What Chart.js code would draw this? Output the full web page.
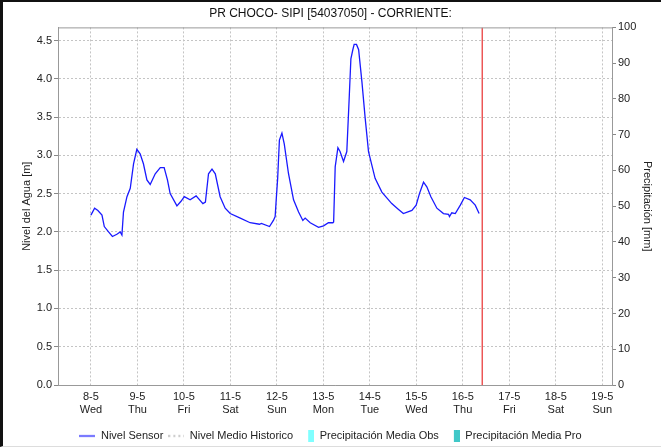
<!DOCTYPE html>
<html>
<head>
<meta charset="utf-8">
<script src="https://cdn.jsdelivr.net/npm/chart.js@4.4.1/dist/chart.umd.min.js"></script>
<style>
  html, body { margin: 0; padding: 0; background: #fff; }
  #wrap { position: relative; width: 661px; height: 447px; overflow: hidden; }
  #wrap canvas { position: absolute; left: 0; top: 0; }
  #marco { position: absolute; left: 0; top: 0; width: 661px; height: 447px; box-sizing: border-box;
           border-left: 3px solid #111; border-top: 2px solid #111; border-bottom: 1px solid #ddd; pointer-events: none; }
</style>
</head>
<body>
<div id="wrap"><canvas id="chNivel" width="661" height="447"></canvas><div id="marco"></div></div>
<script>
/* ── Datos (horas contadas desde 8-5 00:00) ── */
const DIAS = ['8-5', '9-5', '10-5', '11-5', '12-5', '13-5', '14-5', '15-5', '16-5', '17-5', '18-5', '19-5'];
const DIAS_SEMANA = ['Wed', 'Thu', 'Fri', 'Sat', 'Sun', 'Mon', 'Tue', 'Wed', 'Thu', 'Fri', 'Sat', 'Sun'];
const HORAS_DIA = [0, 24, 48, 72, 96, 120, 144, 168, 192, 216, 240, 264];
const NIVEL_TICKS = [0, 0.5, 1, 1.5, 2, 2.5, 3, 3.5, 4, 4.5];
const PRECIP_TICKS = [0, 10, 20, 30, 40, 50, 60, 70, 80, 90, 100];

const HORAS = [
  0, 1.9, 3.6, 5.7, 6.9, 9.1, 11.1, 13.4, 15.1, 16.0, 16.8, 18.6, 20.3, 22.0, 23.7, 25.4, 27.1, 28.9, 30.6,
  33.2, 35.8, 37.8, 39.5, 40.9, 44.4, 46.5, 48.2, 51.2, 54.3, 57.8, 59.1, 60.7, 62.5, 64.2, 66.7, 69.3, 71.9,
  77.1, 82.2, 87.0, 88.0, 92.2, 94.2, 95.1, 95.6, 96.4, 97.3, 98.6, 99.8, 102.0, 104.6, 107.2, 109.4, 110.6,
  113.2, 117.5, 120.1, 122.6, 124.9, 125.3, 126.1, 127.5, 128.6, 130.4, 132.1, 133.4, 134.2, 135.2, 135.9,
  137.1, 138.2, 139.9, 141.6, 143.3, 146.7, 150.2, 155.3, 158.5, 161.3, 165.7, 167.9, 169.6, 171.7, 173.4,
  175.5, 178.6, 182.0, 184.6, 185.1, 186.3, 188.1, 190.7, 192.8, 195.8, 198.4, 200.4
];
const NIVEL = [
  2.22, 2.31, 2.28, 2.22, 2.07, 2.00, 1.94, 1.97, 2.00, 1.96, 2.26, 2.46, 2.57, 2.89, 3.08, 3.02, 2.89, 2.68, 2.62,
  2.76, 2.84, 2.84, 2.68, 2.50, 2.34, 2.40, 2.46, 2.42, 2.47, 2.37, 2.39, 2.76, 2.82, 2.76, 2.46, 2.31, 2.24,
  2.18, 2.12, 2.10, 2.11, 2.07, 2.15, 2.20, 2.40, 2.70, 3.20, 3.29, 3.15, 2.76, 2.42, 2.26, 2.15, 2.18,
  2.12, 2.06, 2.08, 2.12, 2.12, 2.13, 2.85, 3.10, 3.05, 2.92, 3.05, 3.79, 4.26, 4.38, 4.45,
  4.45, 4.38, 3.96, 3.48, 3.05, 2.70, 2.52, 2.37, 2.30, 2.24, 2.28, 2.35, 2.50, 2.65, 2.59,
  2.46, 2.31, 2.24, 2.23, 2.20, 2.25, 2.24, 2.35, 2.45, 2.42, 2.35, 2.24
];
const HORA_ACTUAL = 202;
const X_MIN = -17, X_MAX = 269, NIVEL_MAX = 4.672;

Chart.defaults.font.family = '"Liberation Sans", Arial, sans-serif';
Chart.defaults.color = '#222';

/* símbolos de la leyenda */
function simbolo(tipo, color) {
  const c = document.createElement('canvas');
  c.width = 16; c.height = 12;
  const g = c.getContext('2d');
  if (tipo === 'caja') {
    g.fillStyle = color;
    g.fillRect(10, 0, 6, 12);
  } else {
    g.strokeStyle = color;
    g.lineWidth = 1.3;
    if (tipo === 'guion') g.setLineDash([2, 3]);
    g.beginPath(); g.moveTo(0, 6.5); g.lineTo(16, 6.5); g.stroke();
  }
  return c;
}
const SIMBOLOS = [simbolo('linea', '#1a1aff'), simbolo('guion', '#b0b0b0'), simbolo('caja', '#80ffff'), simbolo('caja', '#40c8c8')];

const marcoArea = {
  id: 'marcoArea',
  afterDatasetsDraw(chart) {
    const a = chart.chartArea, ctx = chart.ctx;
    ctx.save();
    ctx.strokeStyle = '#999';
    ctx.lineWidth = 1;
    ctx.beginPath();
    ctx.moveTo(a.left, a.top + 0.5);
    ctx.lineTo(a.right, a.top + 0.5);
    ctx.stroke();
    ctx.restore();
  }
};

new Chart(document.getElementById('chNivel'), {
  type: 'line',
  data: {
    datasets: [
      { label: 'Nivel Sensor', data: HORAS.map((h, i) => ({ x: h, y: NIVEL[i] })), yAxisID: 'y',
        borderColor: '#1a1aff', borderWidth: 1.3, pointRadius: 0, tension: 0 },
      { label: 'Nivel Medio Historico', data: [], yAxisID: 'y', borderColor: '#b0b0b0', borderDash: [2, 3], pointRadius: 0 },
      { type: 'bar', label: 'Precipitación Media Obs', data: [], yAxisID: 'y2', backgroundColor: '#80ffff' },
      { type: 'bar', label: 'Precipitación Media Pro', data: [], yAxisID: 'y2', backgroundColor: '#40c8c8' },
      { label: '', data: [{ x: HORA_ACTUAL, y: PRECIP_TICKS[0] }, { x: HORA_ACTUAL, y: PRECIP_TICKS[PRECIP_TICKS.length - 1] }],
        yAxisID: 'y2', borderColor: '#e83030', borderWidth: 1.2, pointRadius: 0 }
    ]
  },
  options: {
    responsive: false, animation: false, devicePixelRatio: 1,
    layout: { padding: { left: 0, right: 0, top: 0, bottom: -4 } },
    plugins: {
      title: { display: true, text: 'PR CHOCO- SIPI [54037050] - CORRIENTE:', color: '#111',
               font: { size: 12, weight: 'normal' }, padding: { top: 6, bottom: 7 } },
      legend: {
        position: 'bottom',
        labels: {
          usePointStyle: true, pointStyleWidth: 16, boxHeight: 12, padding: 5,
          font: { size: 11 }, color: '#222',
          generateLabels: chart => chart.data.datasets
            .map((d, i) => ({ text: d.label, pointStyle: SIMBOLOS[i], datasetIndex: i, lineWidth: 0, hidden: false, fontColor: '#222' }))
            .filter(l => l.text)
        }
      },
      tooltip: { enabled: false }
    },
    scales: {
      x: {
        type: 'linear', position: 'bottom', min: X_MIN, max: X_MAX, offset: false,
        afterBuildTicks: s => { s.ticks = HORAS_DIA.map(v => ({ value: v })); },
        afterFit: s => { s.height = 40; },
        ticks: { autoSkip: false, maxRotation: 0, padding: 5, font: { size: 11 }, color: '#222',
                 callback: (v, i) => [DIAS[i], DIAS_SEMANA[i]] },
        grid: { color: '#c4c4c4', drawTicks: false, offset: false },
        border: { color: '#999', dash: [2, 2] }
      },
      y: {
        position: 'left', min: 0, max: NIVEL_MAX,
        afterBuildTicks: s => { s.ticks = NIVEL_TICKS.map(v => ({ value: v })); },
        afterFit: s => { s.width = 58; },
        ticks: { padding: 2, font: { size: 11 }, color: '#222', callback: v => v.toFixed(1) },
        grid: { color: '#c4c4c4', tickLength: 4, tickColor: '#888', tickBorderDash: [] },
        border: { color: '#999', dash: [2, 2] },
        title: { display: true, text: 'Nivel del Agua [m]', font: { size: 11 }, color: '#222', padding: { top: 20, bottom: 0 } }
      },
      y2: {
        position: 'right', min: 0, max: 100,
        afterBuildTicks: s => { s.ticks = PRECIP_TICKS.map(v => ({ value: v })); },
        afterFit: s => { s.width = 49; },
        ticks: { padding: 2, font: { size: 11 }, color: '#222' },
        grid: { drawOnChartArea: false, tickLength: 4, tickColor: '#888' },
        border: { color: '#999' },
        title: { display: true, text: 'Precipitación [mm]', font: { size: 11 }, color: '#222', padding: { top: 7, bottom: 0 } }
      }
    }
  },
  plugins: [marcoArea]
});
</script>
</body>
</html>
